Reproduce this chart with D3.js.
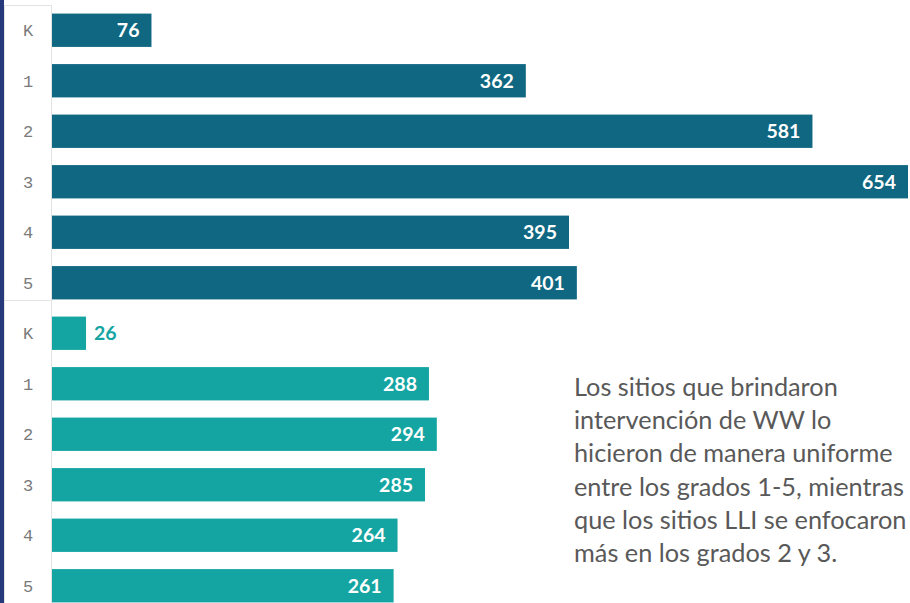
<!DOCTYPE html>
<html><head><meta charset="utf-8">
<script src="https://cdn.jsdelivr.net/npm/d3@7"></script>
<style>html,body{margin:0;padding:0;background:#fff;overflow:hidden}</style>
</head><body>
<svg id="c" width="910" height="603"></svg>
<script>
const categories = ["K","1","2","3","4","5"];
const wwValues = [76, 362, 581, 654, 395, 401];
const lliValues = [26, 288, 294, 285, 264, 261];
const noteLines = ["Los sitios que brindaron","intervención de WW lo","hicieron de manera uniforme","entre los grados 1-5, mientras","que los sitios LLI se enfocaron","más en los grados 2 y 3."];

const svg = d3.select("#c");
const x = d3.scaleLinear().domain([0, 654]).range([52, 908]);
const rows = [];
wwValues.forEach((v,i)=>rows.push({g:"ww",cat:categories[i],v,key:"ww"+i}));
lliValues.forEach((v,i)=>rows.push({g:"lli",cat:categories[i],v,key:"lli"+i}));
const y = d3.scaleBand().domain(rows.map(r=>r.key)).range([5, 611]).paddingInner(0.34).paddingOuter(0.17);
const col = {ww:"#0f6781", lli:"#14a5a2"};

svg.append("rect").attr("x",0).attr("y",0).attr("width",4).attr("height",603).attr("fill","#26397a");
svg.append("rect").attr("x",4.5).attr("y",5.5).attr("width",47).attr("height",620).attr("fill","#fff").attr("stroke","#e3e3e3");
svg.append("line").attr("x1",5).attr("x2",51).attr("y1",300.5).attr("y2",300.5).attr("stroke","#e3e3e3");

svg.selectAll("rect.bar").data(rows).join("rect").attr("class","bar")
  .attr("x",x(0)).attr("y",d=>y(d.key)).attr("width",d=>x(d.v)-x(0)).attr("height",y.bandwidth())
  .attr("fill",d=>col[d.g]);

svg.selectAll("text.cat").data(rows).join("text").attr("class","cat")
  .attr("x",28).attr("y",d=>y(d.key)+y.bandwidth()/2).attr("dy","0.36em")
  .attr("text-anchor","middle").attr("font-family","'Liberation Mono', 'DejaVu Sans Mono', monospace").attr("font-size",17)
  .attr("fill","#7a7a7a").text(d=>d.cat);

const inside = d => x(d.v)-x(0) > 50;
svg.selectAll("text.val").data(rows).join("text").attr("class","val")
  .attr("x",d=> inside(d) ? x(d.v)-12 : x(d.v)+8)
  .attr("y",d=>y(d.key)+y.bandwidth()/2).attr("dy","0.36em")
  .attr("text-anchor",d=> inside(d) ? "end" : "start")
  .attr("font-family","Lato, 'Open Sans', sans-serif").attr("font-weight","bold").attr("font-size",19.5)
  .attr("fill",d=> inside(d) ? "#fff" : col[d.g]).text(d=>d.v);

svg.append("g").selectAll("text").data(noteLines).join("text")
  .attr("x",574).attr("y",(d,i)=>396+i*33.2)
  .attr("font-family","Lato, sans-serif").attr("font-size",25.3).attr("fill","#595959").text(d=>d);
</script>
</body></html>
